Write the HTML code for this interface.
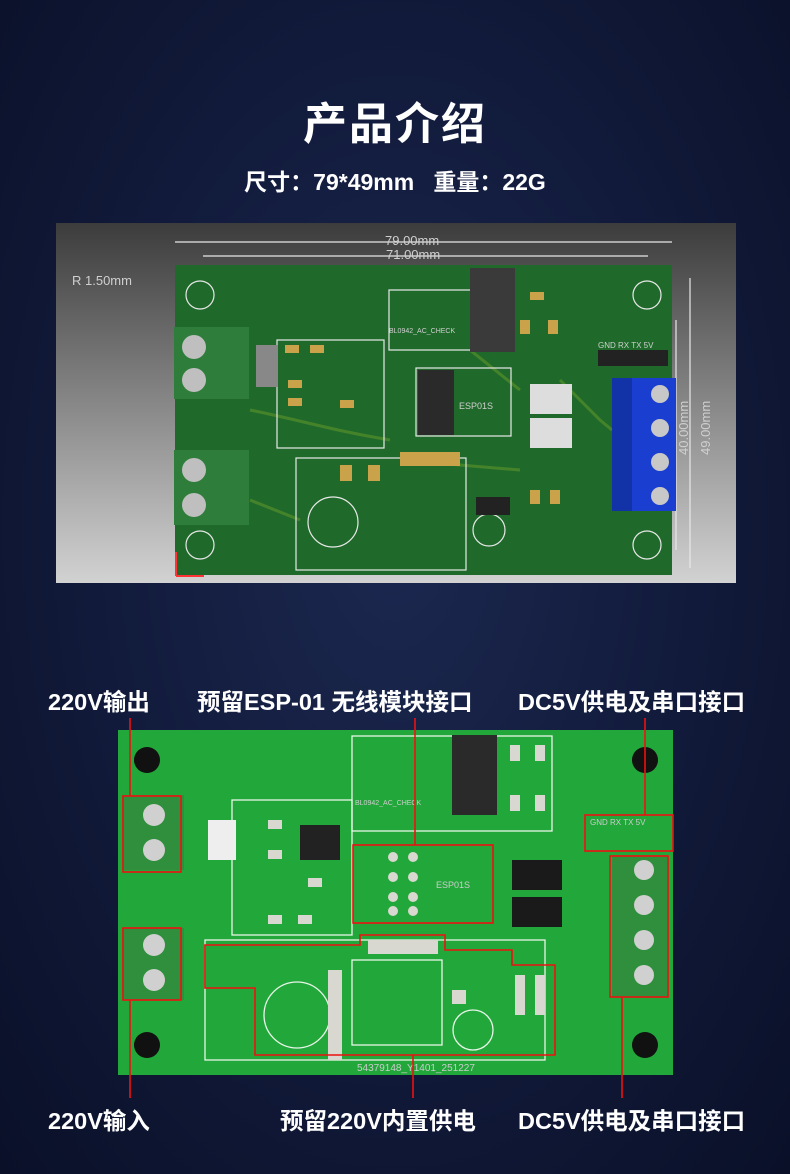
<!DOCTYPE html>
<html><head><meta charset="utf-8"><style>
html,body{margin:0;padding:0}
body{width:790px;height:1174px;overflow:hidden;background:radial-gradient(ellipse at 50% 45%,#1c2850 0%,#111a3a 55%,#0a1028 100%);font-family:"Liberation Sans","Noto Sans CJK SC",sans-serif;position:relative;color:#fff}
.t{position:absolute;white-space:nowrap;font-weight:bold}
.l{font-size:23.5px;top:683px}
.b{font-size:23.5px;top:1102px}
</style></head><body>
<div class="t" style="left:0;width:790px;text-align:center;top:88px;font-size:44px;letter-spacing:2px">产品介绍</div>
<div class="t" style="left:0;width:790px;text-align:center;top:163px;font-size:23px">尺寸：79*49mm&nbsp;&nbsp;&nbsp;重量：22G</div>
<svg width="790" height="1174" style="position:absolute;left:0;top:0" font-family="Liberation Sans, sans-serif">
<defs>
<linearGradient id="gb" x1="0" y1="0" x2="0" y2="1"><stop offset="0" stop-color="#3c3c3c"/><stop offset="1" stop-color="#d2d2d2"/></linearGradient>
</defs>
<rect x="56" y="223" width="680" height="360" fill="url(#gb)"/>
<rect x="175" y="265" width="497" height="310" fill="#1f6a2b"/>
<g fill="none" stroke="#4f8a2a" stroke-width="3" opacity="0.8">
<path d="M250 410C300 420 330 430 390 440M470 350L520 390M560 380L600 420L612 430M250 500L300 520M400 460L520 470"/>
</g>
<g fill="none" stroke="#e8e8e8" stroke-width="1.2">
<path d="M175 242H672M203 256H648"/>
<rect x="389" y="290" width="123" height="60"/><rect x="277" y="340" width="107" height="108"/>
<rect x="416" y="368" width="95" height="68"/><rect x="296" y="458" width="170" height="112"/>
<circle cx="200" cy="295" r="14"/><circle cx="647" cy="295" r="14"/><circle cx="647" cy="545" r="14"/><circle cx="200" cy="545" r="14"/>
<circle cx="333" cy="522" r="25"/><circle cx="489" cy="530" r="16"/>
<path d="M690 278V568M676 320V550"/>
</g>
<g fill="#cfcfcf" font-size="13">
<text x="385" y="245">79.00mm</text><text x="386" y="259">71.00mm</text><text x="72" y="285">R 1.50mm</text>
<text x="688" y="455" transform="rotate(-90 688 455)">40.00mm</text><text x="710" y="455" transform="rotate(-90 710 455)">49.00mm</text>
<text x="459" y="409" font-size="9">ESP01S</text><text x="389" y="333" font-size="7">BL0942_AC_CHECK</text><text x="598" y="348" font-size="8">GND RX TX 5V</text>
</g>
<g fill="#c9a24a">
<rect x="285" y="345" width="14" height="8"/><rect x="310" y="345" width="14" height="8"/><rect x="288" y="380" width="14" height="8"/><rect x="288" y="398" width="14" height="8"/><rect x="340" y="400" width="14" height="8"/><rect x="530" y="292" width="14" height="8"/><rect x="520" y="320" width="10" height="14"/><rect x="548" y="320" width="10" height="14"/><rect x="340" y="465" width="12" height="16"/><rect x="368" y="465" width="12" height="16"/><rect x="400" y="452" width="60" height="14"/><rect x="530" y="490" width="10" height="14"/><rect x="550" y="490" width="10" height="14"/>
</g>
<rect x="174" y="327" width="75" height="72" fill="#2e7d3a"/><rect x="174" y="450" width="75" height="75" fill="#2e7d3a"/>
<g fill="#bfbfbf"><circle cx="194" cy="347" r="12"/><circle cx="194" cy="380" r="12"/><circle cx="194" cy="470" r="12"/><circle cx="194" cy="505" r="12"/></g>
<rect x="612" y="378" width="64" height="133" fill="#1a3fd0"/><rect x="612" y="378" width="20" height="133" fill="#1232a8"/>
<g fill="#c8c8c8"><circle cx="660" cy="394" r="9"/><circle cx="660" cy="428" r="9"/><circle cx="660" cy="462" r="9"/><circle cx="660" cy="496" r="9"/></g>
<rect x="470" y="268" width="45" height="84" fill="#3a3a3a"/><rect x="256" y="345" width="22" height="42" fill="#888"/>
<rect x="418" y="370" width="36" height="65" fill="#2a2a2a"/><rect x="598" y="350" width="70" height="16" fill="#222"/>
<rect x="530" y="384" width="42" height="30" fill="#ddd"/><rect x="530" y="418" width="42" height="30" fill="#ddd"/>
<rect x="476" y="497" width="34" height="18" fill="#222"/>
<path d="M176 576V552M176 576H204" stroke="#f33" stroke-width="2"/>
<!-- bottom image -->
<rect x="118" y="730" width="555" height="345" fill="#22a83a"/>
<g fill="none" stroke="#e8f5e8" stroke-width="1.3">
<rect x="352" y="736" width="200" height="95"/><rect x="232" y="800" width="120" height="135"/>
<rect x="205" y="940" width="340" height="120"/><rect x="352" y="960" width="90" height="85"/>
<circle cx="297" cy="1015" r="33"/><circle cx="473" cy="1030" r="20"/>
</g>
<g fill="#d8d8d0">
<rect x="268" y="820" width="14" height="9"/><rect x="268" y="850" width="14" height="9"/><rect x="308" y="878" width="14" height="9"/><rect x="268" y="915" width="14" height="9"/><rect x="298" y="915" width="14" height="9"/><rect x="510" y="745" width="10" height="16"/><rect x="535" y="745" width="10" height="16"/><rect x="510" y="795" width="10" height="16"/><rect x="535" y="795" width="10" height="16"/><rect x="368" y="940" width="70" height="14"/><rect x="328" y="970" width="14" height="90"/><rect x="515" y="975" width="10" height="40"/><rect x="535" y="975" width="10" height="40"/><rect x="452" y="990" width="14" height="14"/>
</g>
<g fill="#111"><circle cx="147" cy="760" r="13"/><circle cx="645" cy="760" r="13"/><circle cx="645" cy="1045" r="13"/><circle cx="147" cy="1045" r="13"/></g>
<rect x="122" y="795" width="62" height="75" fill="#2f8f3c"/><rect x="122" y="928" width="62" height="72" fill="#2f8f3c"/>
<g fill="#d0d0d0"><circle cx="154" cy="815" r="11"/><circle cx="154" cy="850" r="11"/><circle cx="154" cy="945" r="11"/><circle cx="154" cy="980" r="11"/></g>
<rect x="612" y="855" width="55" height="142" fill="#2f8f3c"/>
<g fill="#d0d0d0"><circle cx="644" cy="870" r="10"/><circle cx="644" cy="905" r="10"/><circle cx="644" cy="940" r="10"/><circle cx="644" cy="975" r="10"/></g>
<rect x="452" y="735" width="45" height="80" fill="#2a2a2a"/><rect x="208" y="820" width="28" height="40" fill="#eee"/>
<rect x="300" y="825" width="40" height="35" fill="#222"/><rect x="512" y="860" width="50" height="30" fill="#1a1a1a"/><rect x="512" y="897" width="50" height="30" fill="#1a1a1a"/>
<g fill="#d8d8d0"><circle cx="393" cy="857" r="5"/><circle cx="413" cy="857" r="5"/><circle cx="393" cy="877" r="5"/><circle cx="413" cy="877" r="5"/><circle cx="393" cy="897" r="5"/><circle cx="413" cy="897" r="5"/><circle cx="393" cy="911" r="5"/><circle cx="413" cy="911" r="5"/></g>
<g fill="#ccc" font-size="9"><text x="436" y="888">ESP01S</text><text x="355" y="805" font-size="7">BL0942_AC_CHECK</text><text x="590" y="825" font-size="8">GND RX TX 5V</text><text x="357" y="1071" font-size="10">54379148_Y1401_251227</text></g>
<g fill="none" stroke="#ee1111" stroke-width="1.6">
<rect x="123" y="796" width="58" height="76"/><rect x="123" y="928" width="58" height="72"/>
<rect x="353" y="845" width="140" height="78"/><rect x="585" y="815" width="88" height="36"/><rect x="610" y="856" width="58" height="141"/>
<path d="M205 945H360V935H445V950H512V965H555V1055H255V988H205Z"/>
<path d="M130 718V796M415 718V845M645 718V815M130 1000V1098M413 1055V1098M622 997V1098"/>
</g>
</svg>
<div class="t l" style="left:48px">220V输出</div>
<div class="t l" style="left:197px">预留ESP-01 无线模块接口</div>
<div class="t l" style="left:518px">DC5V供电及串口接口</div>
<div class="t b" style="left:48px">220V输入</div>
<div class="t b" style="left:280px">预留220V内置供电</div>
<div class="t b" style="left:518px">DC5V供电及串口接口</div>
</body></html>
